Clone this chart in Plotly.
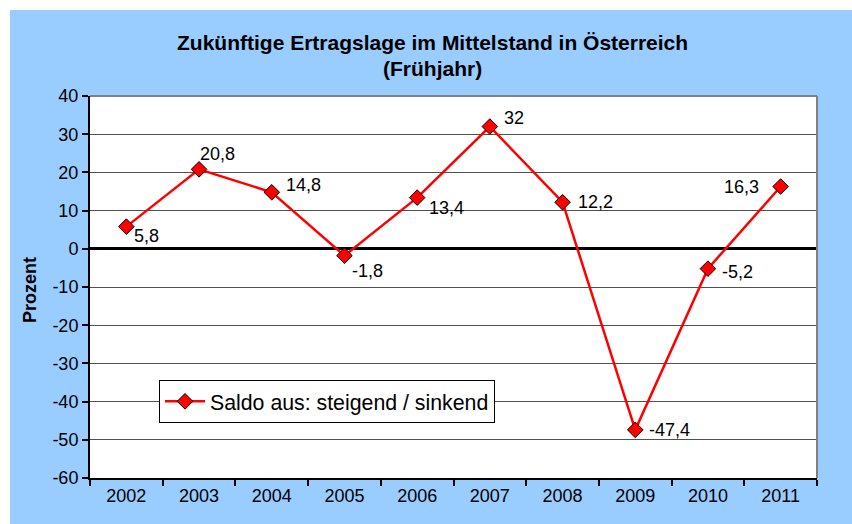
import plotly.graph_objects as go

years = ["2002", "2003", "2004", "2005", "2006", "2007", "2008", "2009", "2010", "2011"]
saldo = [5.8, 20.8, 14.8, -1.8, 13.4, 32, 12.2, -47.4, -5.2, 16.3]
series_name = "Saldo aus: steigend / sinkend"
title_line1 = "Zukünftige Ertragslage im Mittelstand in Österreich"
title_line2 = "(Frühjahr)"
y_title = "Prozent"
y_tick_values = [-60, -50, -40, -30, -20, -10, 0, 10, 20, 30, 40]
y_tick_labels = ["-60", "-50", "-40", "-30", "-20", "-10", "0", "10", "20", "30", "40"]

# label placement (style only)
label_anchor = ["left", "left", "left", "left", "left", "left", "left", "left", "left", "right"]
label_dx = [6, -1, 12, 6, 10, 12, 13, 12, 12, -20]
label_dy = [-9, 15, 7, -15, -10, 9, 0, 0, -3, 0]

W, H = 852, 524
ml, mr, mt, mb = 90, 35, 96, 46
pw = W - ml - mr
ph = H - mt - mb

FONT = "Liberation Sans, Arial, Helvetica, sans-serif"

fig = go.Figure()
fig.add_trace(go.Scatter(
    x=years, y=saldo, mode="lines+markers", name=series_name,
    line=dict(color="#FF0000", width=2.5),
    marker=dict(symbol="diamond", size=12, color="#FF0000",
                line=dict(color="#000000", width=1)),
    showlegend=True,
))

annotations = []
for i, (v, anc, dx, dy) in enumerate(zip(saldo, label_anchor, label_dx, label_dy)):
    annotations.append(dict(
        x=i, y=v, xref="x", yref="y", text=f"{v:g}".replace(".", ","),
        showarrow=False, xanchor=anc, yanchor="middle", xshift=dx, yshift=dy,
        font=dict(family=FONT, size=18, color="#000000"),
    ))

def px_x(p):
    return (p - ml) / pw

def px_y(p):
    return (H - mb - p) / ph

annotations.append(dict(
    x=px_x(432), y=px_y(42), xref="paper", yref="paper", text=f"<b>{title_line1}</b>",
    showarrow=False, xanchor="center", yanchor="middle",
    font=dict(family=FONT, size=21, color="#000000"),
))
annotations.append(dict(
    x=px_x(432), y=px_y(68), xref="paper", yref="paper", text=f"<b>{title_line2}</b>",
    showarrow=False, xanchor="center", yanchor="middle",
    font=dict(family=FONT, size=21, color="#000000"),
))
annotations.append(dict(
    x=px_x(30), y=px_y(290), xref="paper", yref="paper", text=f"<b>{y_title}</b>",
    showarrow=False, xanchor="center", yanchor="middle", textangle=-90,
    font=dict(family=FONT, size=18, color="#000000"),
))

shapes = [
    # white strips at the top and left of the picture
    dict(type="rect", xref="paper", yref="paper",
         x0=px_x(-5), x1=px_x(W + 5), y0=px_y(10), y1=px_y(-5),
         fillcolor="#FFFFFF", line=dict(width=0), layer="below"),
    dict(type="rect", xref="paper", yref="paper",
         x0=px_x(-5), x1=px_x(10), y0=px_y(H + 5), y1=px_y(-5),
         fillcolor="#FFFFFF", line=dict(width=0), layer="below"),
    # grey frame on top and right of plot area
    dict(type="line", xref="paper", yref="paper", x0=0, x1=1, y0=1, y1=1,
         line=dict(color="#808080", width=2), layer="above"),
    dict(type="line", xref="paper", yref="paper", x0=1, x1=1, y0=0, y1=1,
         line=dict(color="#808080", width=2), layer="above"),
]

fig.update_layout(
    width=W, height=H,
    margin=dict(l=ml, r=mr, t=mt, b=mb, pad=0),
    paper_bgcolor="#99CCFF", plot_bgcolor="#FFFFFF",
    font=dict(family=FONT, size=18, color="#000000"),
    annotations=annotations, shapes=shapes,
    legend=dict(x=px_x(159), y=px_y(380), xanchor="left", yanchor="top",
                bgcolor="#FFFFFF", bordercolor="#000000", borderwidth=1,
                itemwidth=40,
                font=dict(family=FONT, size=21.3, color="#000000")),
    xaxis=dict(type="category", range=[-0.5, 9.5], tickson="boundaries",
               ticks="outside", ticklen=6, tickangle=0,
               tickcolor="#000000", tickwidth=1.5, showgrid=False,
               showline=True, linecolor="#000000", linewidth=2,
               tickfont=dict(family=FONT, size=18), fixedrange=True),
    yaxis=dict(range=[-60, 40], tickmode="array", tickvals=y_tick_values,
               ticktext=y_tick_labels, ticks="outside", ticklen=6,
               tickcolor="#000000", tickwidth=1.5,
               showgrid=True, gridcolor="#505050", gridwidth=1,
               zeroline=True, zerolinecolor="#000000", zerolinewidth=3,
               showline=True, linecolor="#000000", linewidth=2,
               tickfont=dict(family=FONT, size=18), fixedrange=True),
)

# remove the default 8px page margin so the figure sits at the window's corner
fig.write_html(
    "out.html",
    config={"displayModeBar": False},
    post_script="document.body.style.margin='0';document.body.style.overflow='hidden';",
)
